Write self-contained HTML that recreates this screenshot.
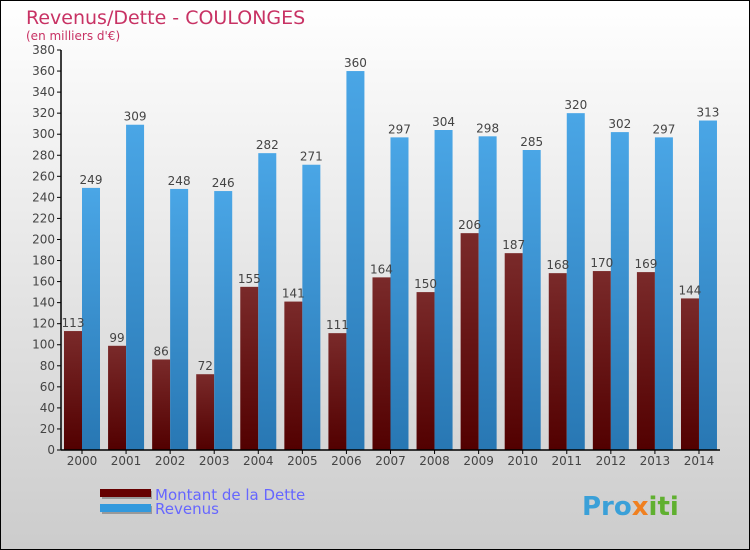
<!DOCTYPE html>
<html><head><meta charset="utf-8"><style>
body{margin:0}
#c{width:750px;height:550px;position:relative;overflow:hidden}
text{font-family:"DejaVu Sans","Liberation Sans",sans-serif}
</style></head><body>
<div id="c">
<svg id="s" width="750" height="550" xmlns="http://www.w3.org/2000/svg">
<defs>
<linearGradient id="bg" x1="0" y1="0" x2="0" y2="1"><stop offset="0" stop-color="#ffffff"/><stop offset="1" stop-color="#cccccc"/></linearGradient>
<linearGradient id="gd" x1="0" y1="0" x2="0" y2="1"><stop offset="0" stop-color="#7a2a2a"/><stop offset="1" stop-color="#520000"/></linearGradient>
<linearGradient id="gb" x1="0" y1="0" x2="0" y2="1"><stop offset="0" stop-color="#4aa6e6"/><stop offset="1" stop-color="#2877b3"/></linearGradient>
</defs>
<rect x="0.5" y="0.5" width="749" height="549" fill="url(#bg)" stroke="#000"/>
<text x="26" y="24" font-size="19" fill="#c83264">Revenus/Dette - COULONGES</text>
<text x="26" y="40" font-size="12" fill="#c83264">(en milliers d'€)</text>
<g id="plot"></g>
<g>
<rect x="102" y="491" width="50" height="8" fill="#999"/><rect x="100" y="489" width="51" height="8" fill="#660000"/>
<text x="155" y="500" font-size="15" fill="#6666ff">Montant de la Dette</text>
<rect x="102" y="506" width="50" height="8" fill="#999"/><rect x="100" y="504" width="51" height="8" fill="#3399dd"/>
<text x="155" y="514" font-size="15" fill="#6666ff">Revenus</text>
</g>
<text x="582" y="515" font-size="26" font-weight="bold" fill="#3aa0d8">Pro<tspan fill="#f08020">x</tspan><tspan fill="#60b030">iti</tspan></text>
</svg>
</div>
<script>
const years=["2000","2001","2002","2003","2004","2005","2006","2007","2008","2009","2010","2011","2012","2013","2014"];
const dette=[113,99,86,72,155,141,111,164,150,206,187,168,170,169,144];
const revenus=[249,309,248,246,282,271,360,297,304,298,285,320,302,297,313];
const yTicks=[0,20,40,60,80,100,120,140,160,180,200,220,240,260,280,300,320,340,360,380];
const NS="http://www.w3.org/2000/svg";
const g=document.getElementById('plot');
const y0=450,yTop=50,yMax=380;
function Y(v){return y0-(v/yMax)*(y0-yTop);}
function X(i){return 82+i*44.07;}
function el(t,a,txt){const e=document.createElementNS(NS,t);for(const k in a)e.setAttribute(k,a[k]);if(txt!==undefined)e.textContent=txt;g.appendChild(e);return e;}
yTicks.forEach(v=>{
 const t=el('line',{x1:57,x2:61,y1:Y(v),y2:Y(v),stroke:'#000'});
 
 
 const l=el('text',{x:55,y:Y(v)+4,'font-size':12,fill:'#444','text-anchor':'end'},String(v));
 
 
});
years.forEach((yr,i)=>{
 const x=X(i);
 const d=el('rect',{x:x-18,y:Y(dette[i]),width:18,height:y0-Y(dette[i]),fill:'url(#gd)'});
 
 
 const b=el('rect',{x:x,y:Y(revenus[i]),width:18,height:y0-Y(revenus[i]),fill:'url(#gb)'});
 
 
 const ld=el('text',{x:x-9,y:Y(dette[i])-4,'font-size':12,fill:'#444','text-anchor':'middle'},String(dette[i]));
 
 
 const lb=el('text',{x:x+9,y:Y(revenus[i])-4,'font-size':12,fill:'#444','text-anchor':'middle'},String(revenus[i]));
 
 
 const tk=el('line',{x1:x,x2:x,y1:450,y2:454,stroke:'#000'});
 
 
 const xl=el('text',{x:x,y:465,'font-size':12,fill:'#444','text-anchor':'middle'},yr);
 
 
});
const ya=el('line',{x1:61,x2:61,y1:50,y2:450,stroke:'#000','stroke-width':1.5});


const xa=el('line',{x1:61,x2:720,y1:450,y2:450,stroke:'#000','stroke-width':1.5});


</script>
</body></html>
